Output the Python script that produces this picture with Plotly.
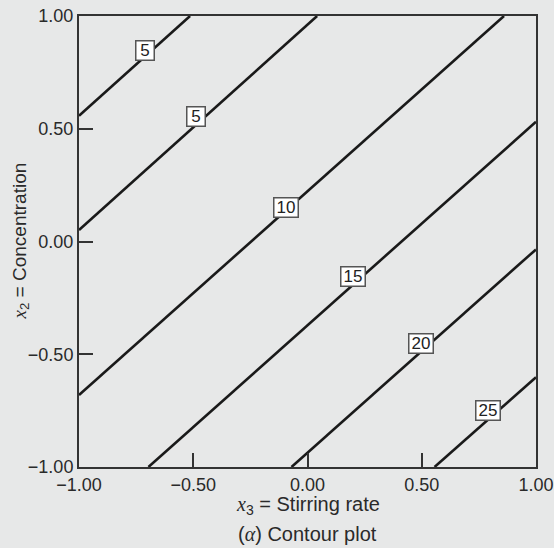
import plotly.graph_objects as go

# Contour lines: each straight contour from (x_start, y_start) to (x_end, y_end)
levels = ["5", "5", "10", "15", "20", "25"]
x_start = [-1.0, -1.0, -1.0, -0.696, -0.070, 0.556]
y_start = [0.558, 0.051, -0.681, -1.0, -1.0, -1.0]
x_end = [-0.514, 0.042, 0.860, 1.0, 1.0, 1.0]
y_end = [1.0, 1.0, 1.0, 0.531, -0.035, -0.602]

# Label positions (data coordinates)
label_x = [-0.711, -0.488, -0.092, 0.198, 0.498, 0.789]
label_y = [0.846, 0.553, 0.153, -0.153, -0.451, -0.750]

tick_vals = [-1.0, -0.5, 0.0, 0.5, 1.0]
tick_text = ["\u22121.00", "\u22120.50", "0.00", "0.50", "1.00"]

BG = "#e7e8e8"
FONT = "Liberation Sans, Arial, sans-serif"
SERIF = "Liberation Serif, Times New Roman, serif"

fig = go.Figure()
for i in range(len(levels)):
    fig.add_trace(go.Scatter(
        x=[x_start[i], x_end[i]], y=[y_start[i], y_end[i]],
        mode="lines", line=dict(color="#1a1a1a", width=2.6),
        hoverinfo="skip", showlegend=False))

for i in range(len(levels)):
    fig.add_annotation(
        x=label_x[i], y=label_y[i], xref="x", yref="y", text=levels[i],
        showarrow=False, bgcolor="white", bordercolor="#555555", borderwidth=1.5,
        borderpad=0.5, width=10 + 6 * len(levels[i]), height=17,
        font=dict(family=FONT, size=17, color="#222222"))

axis_common = dict(
    range=[-1, 1], tickvals=tick_vals, ticktext=tick_text,
    ticks="inside", ticklen=14, tickwidth=1.5, tickcolor="#333333",
    showgrid=False, zeroline=False, showline=True, mirror=True,
    linecolor="#333333", linewidth=2, automargin=False,
    tickfont=dict(family=FONT, size=18, color="#2a2a2a"),
)

fig.update_layout(
    width=554, height=548,
    margin=dict(l=79, r=18, t=16, b=81, autoexpand=False),
    paper_bgcolor=BG, plot_bgcolor=BG,
    xaxis=dict(**axis_common),
    yaxis=dict(**axis_common),
    showlegend=False,
)

fig.add_annotation(
    x=0.5, y=0, xref="paper", yref="paper", yshift=-38, xanchor="center", yanchor="middle",
    text=f"<span style='font-family:{SERIF}'><i>x</i></span><sub>3</sub> = Stirring rate",
    showarrow=False, font=dict(family=FONT, size=20, color="#2a2a2a"))
fig.add_annotation(
    x=0.5, y=0, xref="paper", yref="paper", yshift=-67, xanchor="center", yanchor="middle",
    text=f"(<span style='font-family:{SERIF}'><i>α</i></span>) Contour plot",
    showarrow=False, font=dict(family=FONT, size=20, color="#2a2a2a"))
fig.add_annotation(
    x=0, y=0.5, xref="paper", yref="paper", xshift=-59, xanchor="center", yanchor="middle",
    textangle=-90,
    text=f"<span style='font-family:{SERIF}'><i>x</i></span><sub>2</sub> = Concentration",
    showarrow=False, font=dict(family=FONT, size=19, color="#2a2a2a"))

fig.write_html(
    "out.html",
    config={"displayModeBar": False},
    post_script="document.body.style.margin='0';document.body.style.overflow='hidden';"
                "document.body.style.background='" + BG + "';",
)
